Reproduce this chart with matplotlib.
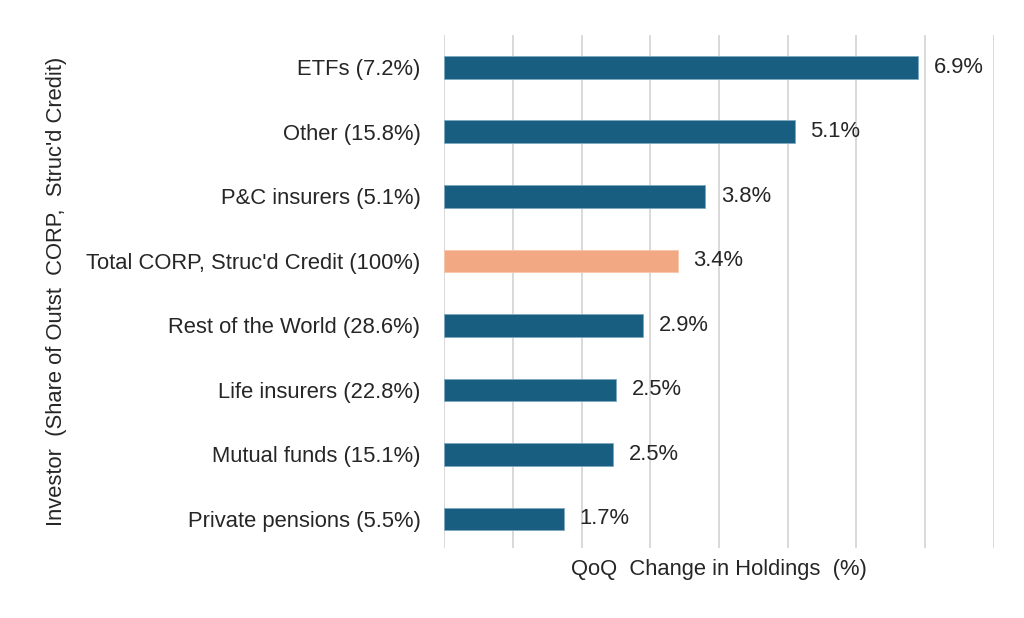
import matplotlib

matplotlib.use("Agg")
import matplotlib.pyplot as plt

plt.rcParams["font.family"] = ["Liberation Sans", "DejaVu Sans"]

# data, top to bottom as shown
investors = [
    "ETFs (7.2%)",
    "Other (15.8%)",
    "P&C insurers (5.1%)",
    "Total CORP, Struc'd Credit (100%)",
    "Rest of the World (28.6%)",
    "Life insurers (22.8%)",
    "Mutual funds (15.1%)",
    "Private pensions (5.5%)",
]
qoq_change = [6.9, 5.1, 3.8, 3.4, 2.9, 2.5, 2.46, 1.74]
highlight = "Total CORP, Struc'd Credit (100%)"

BLUE = "#175e80"
ORANGE = "#f2a983"
TEXT = "#262626"
FS = 15.8

fig = plt.figure(figsize=(10.24, 6.18), dpi=100)
ax = fig.add_axes([0.4336, 0.1133, 0.5371, 0.8301])

ypos = list(range(len(investors)))[::-1]
colors = [ORANGE if name == highlight else BLUE for name in investors]
edges = ["#f6c6ab" if name == highlight else "#7fa8bf" for name in investors]
ax.barh(ypos, qoq_change, height=0.35, color=colors,
        edgecolor=edges, linewidth=0.6, zorder=3)

for y, v in zip(ypos, qoq_change):
    ax.text(v + 0.23, y, f"{v:.1f}%", va="center", ha="left",
            fontsize=FS, color=TEXT)

ax.set_xlim(0, 8)
ax.set_ylim(-0.45, 7.5)
ax.set_xticks(range(0, 9))
ax.tick_params(axis="x", length=0, labelbottom=False)
ax.tick_params(axis="y", length=0, pad=17, labelsize=FS, labelcolor=TEXT)
ax.set_yticks(ypos)
ax.set_yticklabels(investors)
ax.grid(axis="x", color="#d3d3d3", linewidth=1.2, zorder=0)
for s in ax.spines.values():
    s.set_visible(False)

ax.set_xlabel("QoQ  Change in Holdings  (%)", fontsize=FS, color=TEXT,
              labelpad=8)
ax.set_ylabel("Investor  (Share of Outst  CORP,  Struc'd Credit)",
              fontsize=FS, color=TEXT)
ax.yaxis.set_label_coords(-0.685, 0.5)

fig.savefig("out.png", dpi=100)
